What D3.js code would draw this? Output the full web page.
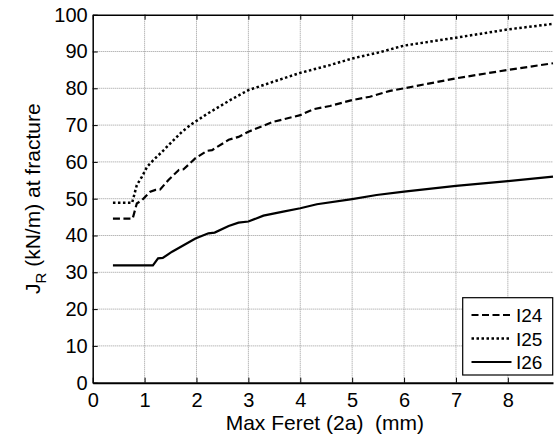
<!DOCTYPE html>
<html><head><meta charset="utf-8">
<script src="https://cdn.jsdelivr.net/npm/d3@7"></script>
<style>html,body{margin:0;padding:0;background:#fff;}svg{display:block;font-family:"Liberation Sans",Arial,sans-serif;}</style>
</head><body>
<script>
const seriesNames = ["I24", "I25", "I26"];
const i24X = [0.39, 0.77, 0.85, 0.95, 1.11, 1.21, 1.3, 1.46, 1.66, 1.75, 1.98, 2.2, 2.3, 2.62, 2.81, 3.0, 3.48, 4.0, 4.25, 4.57, 5.0, 5.34, 5.73, 6.0, 7.0, 8.0, 8.87];
const i24Y = [44.6, 44.6, 48.7, 49.6, 51.9, 52.4, 52.5, 55.1, 57.8, 58, 61, 63, 63.2, 66, 66.8, 68.2, 70.9, 72.7, 74.3, 75.2, 76.8, 77.7, 79.3, 80, 82.7, 85, 86.8];
const i25X = [0.39, 0.76, 0.85, 0.95, 1.05, 1.17, 1.34, 1.53, 1.72, 1.91, 2.2, 2.65, 3.0, 3.42, 4.0, 4.57, 5.0, 5.53, 6.0, 7.0, 8.0, 8.87];
const i25Y = [48.9, 48.9, 53.7, 56, 58.7, 60.5, 62.8, 65.5, 68.2, 70.3, 73, 76.8, 79.5, 81.5, 84.2, 86.3, 88.1, 89.8, 91.6, 93.75, 96, 97.5];
const i26X = [0.39, 1.16, 1.26, 1.35, 1.53, 1.98, 2.23, 2.35, 2.62, 2.81, 3.0, 3.29, 3.67, 4.0, 4.32, 5.0, 5.47, 6.0, 7.0, 8.0, 8.87];
const i26Y = [31.9, 31.9, 33.8, 33.9, 35.6, 39.2, 40.6, 40.8, 42.6, 43.5, 43.8, 45.4, 46.5, 47.4, 48.5, 49.9, 51, 51.9, 53.5, 54.8, 56];
const xTicks = [0, 1, 2, 3, 4, 5, 6, 7, 8];
const yTicks = [0, 10, 20, 30, 40, 50, 60, 70, 80, 90, 100];
const xDomain = [0, 8.87];
const yDomain = [0, 100];

const W = 554, H = 437;
const L = 92.7, T = 14.7, R = 553, B = 382.7;
const dashes = ["7,3.5", "2.5,2.5", null];
const FONT = "Liberation Sans, Arial, sans-serif";

const svg = d3.select("body").append("svg").attr("width", W).attr("height", H);
svg.append("rect").attr("width", W).attr("height", H).attr("fill", "#fff");

const x = d3.scaleLinear().domain(xDomain).range([L, R]);
const y = d3.scaleLinear().domain(yDomain).range([B, T]);

// grid
const grid = svg.append("g");
grid.selectAll(".gx").data(xTicks.filter(d => d > 0)).enter().append("line")
  .attr("x1", d => x(d)).attr("x2", d => x(d)).attr("y1", T).attr("y2", B)
  .attr("stroke", "#999").attr("stroke-width", 1).attr("stroke-dasharray", "1,1");
grid.selectAll(".gy").data(yTicks.filter(d => d > 0 && d < 100)).enter().append("line")
  .attr("x1", L).attr("x2", R).attr("y1", d => y(d)).attr("y2", d => y(d))
  .attr("stroke", "#999").attr("stroke-width", 1).attr("stroke-dasharray", "1,1");

// axes
const fs = "20px";
const xAxis = svg.append("g").attr("transform", `translate(0,${B})`)
  .call(d3.axisBottom(x).tickValues(xTicks).tickFormat(d3.format("d")).tickSizeInner(-5).tickSizeOuter(0).tickPadding(10));
xAxis.select(".domain").attr("stroke", "#000").attr("stroke-width", 2);
xAxis.selectAll("text").attr("font-size", fs).attr("fill", "#000").attr("font-family", FONT);
xAxis.selectAll(".tick line").attr("stroke", "#000");

const yAxis = svg.append("g").attr("transform", `translate(${L},0)`)
  .call(d3.axisLeft(y).tickValues(yTicks).tickFormat(d3.format("d")).tickSizeInner(-5).tickSizeOuter(0).tickPadding(5));
yAxis.select(".domain").attr("stroke", "#000").attr("stroke-width", 1.5);
yAxis.selectAll("text").attr("font-size", fs).attr("fill", "#000").attr("font-family", FONT);
yAxis.selectAll(".tick line").attr("stroke", "#000");

// top axis with inward ticks
const topAxis = svg.append("g").attr("transform", `translate(0,${T})`)
  .call(d3.axisTop(x).tickValues(xTicks).tickFormat("").tickSizeInner(-5).tickSizeOuter(0));
topAxis.select(".domain").attr("stroke", "#000").attr("stroke-width", 1.5);
topAxis.selectAll(".tick line").attr("stroke", "#000");

// curves
const data = [
  {name: seriesNames[0], xs: i24X, ys: i24Y},
  {name: seriesNames[1], xs: i25X, ys: i25Y},
  {name: seriesNames[2], xs: i26X, ys: i26Y}
];
const line = d3.line().x(d => x(d[0])).y(d => y(d[1]));
data.forEach((s, i) => {
  const pts = s.xs.map((v, k) => [v, s.ys[k]]);
  svg.append("path").datum(pts).attr("d", line)
    .attr("fill", "none").attr("stroke", "#000").attr("stroke-width", i === 1 ? 2.5 : 2.2)
    .attr("stroke-dasharray", dashes[i]);
});

// axis titles
svg.append("text").attr("x", (L + R) / 2 + 2).attr("y", 430).attr("text-anchor", "middle")
  .attr("font-size", "21px").attr("fill", "#000").style("white-space", "pre").text("Max Feret (2a)  (mm)");
const yt = svg.append("text").attr("transform", `translate(40,${(T + B) / 2}) rotate(-90)`)
  .attr("text-anchor", "middle").attr("font-size", "21px").attr("fill", "#000");
yt.append("tspan").text("J");
yt.append("tspan").attr("font-size", "15px").attr("dy", 6).text("R");
yt.append("tspan").attr("dy", -6).text(" (kN/m) at fracture");

// legend
const lg = svg.append("g");
lg.append("rect").attr("x", 462.7).attr("y", 297.7).attr("width", 90).attr("height", 77.3)
  .attr("fill", "#fff").attr("stroke", "#000").attr("stroke-width", 1.2);
data.forEach((s, i) => {
  const cy = 315 + i * 23.5;
  lg.append("line").attr("x1", 471.5).attr("x2", 511.5).attr("y1", cy).attr("y2", cy)
    .attr("stroke", "#000").attr("stroke-width", i === 1 ? 2.5 : 2.2).attr("stroke-dasharray", dashes[i]);
  lg.append("text").attr("x", 516).attr("y", cy + 7).attr("font-size", "19px").attr("fill", "#000").text(s.name);
});
</script>
</body></html>
